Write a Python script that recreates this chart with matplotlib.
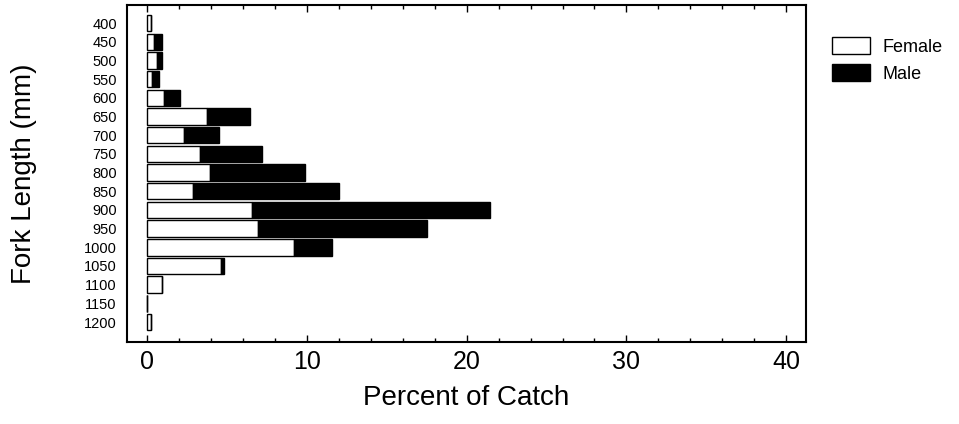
import numpy as np
import matplotlib.pyplot as plt
from matplotlib.ticker import MultipleLocator

plt.rcParams['font.family'] = ['Liberation Sans', 'DejaVu Sans']

# classes de longueur (mm) et pourcentage des captures par sexe
lengths = [400, 450, 500, 550, 600, 650, 700, 750, 800, 850,
           900, 950, 1000, 1050, 1100, 1150, 1200]
female = [0.25, 0.44, 0.63, 0.31, 1.08, 3.75, 2.29, 3.30, 3.94, 2.86,
          6.57, 6.97, 9.20, 4.62, 0.92, 0.03, 0.25]
male = [0.0, 0.50, 0.31, 0.46, 0.98, 2.67, 2.20, 3.90, 5.96, 9.14,
        14.89, 10.57, 2.37, 0.21, 0.0, 0.0, 0.0]

fig = plt.figure(figsize=(9.59, 4.24), dpi=100)
ax = fig.add_axes([0.1327, 0.1934, 0.7074, 0.7948])

pos = np.arange(len(lengths))
ax.barh(pos, female, height=0.88, color='white', edgecolor='black',
        linewidth=1.0, label='Female')
ax.barh(pos, male, left=female, height=0.88, color='black',
        edgecolor='black', linewidth=1.0, label='Male')

ax.set_ylim(len(lengths) - 1 + 1.07, -0.97)
ax.set_xlim(-1.23, 41.21)
ax.set_yticks(pos)
ax.set_yticklabels([str(v) for v in lengths], fontsize=10.5)
ax.tick_params(axis='y', length=0, pad=7.5)

ax.xaxis.set_major_locator(MultipleLocator(10))
ax.xaxis.set_minor_locator(MultipleLocator(2))
ax.tick_params(axis='x', which='both', direction='in', top=True,
               labelsize=18, pad=6, width=1.0)
ax.tick_params(axis='x', which='major', length=5)
ax.tick_params(axis='x', which='minor', length=3)

for sp in ax.spines.values():
    sp.set_linewidth(1.5)

ax.set_xlabel('Percent of Catch', fontsize=20, labelpad=8)
ax.set_ylabel('Fork Length (mm)', fontsize=20, labelpad=34)

fig.legend(loc='upper left', bbox_to_anchor=(832 / 959, 1 - 37 / 424),
           frameon=False, fontsize=13, borderpad=0, borderaxespad=0,
           handlelength=2.1, handleheight=1.1, labelspacing=0.45,
           handletextpad=0.7)

fig.savefig('out.png', dpi=100)
